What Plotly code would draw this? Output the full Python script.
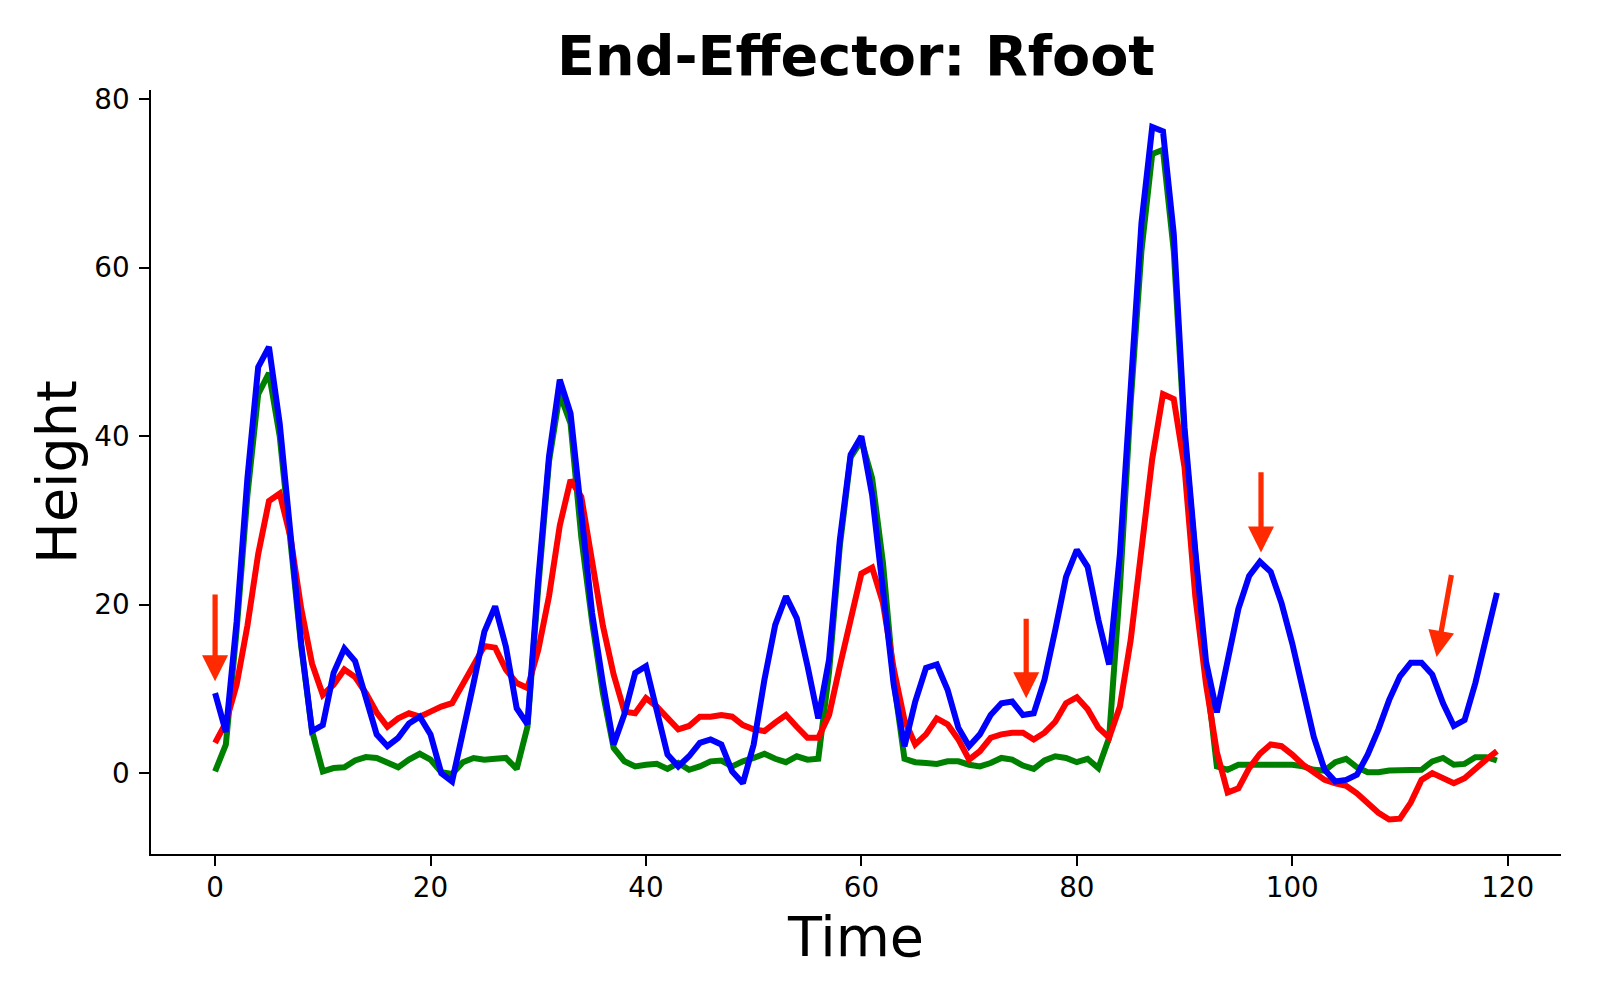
import plotly.graph_objects as go

# ---------------- data ----------------
time = list(range(120))

green = [0.2, 3.4, 17, 33, 45, 47.5, 40, 28, 15, 5,
         0.2, 0.6, 0.7, 1.5, 1.9, 1.8, 1.3, 0.7, 1.6, 2.3,
         1.6, 0.1, -0.1, 1.3, 1.8, 1.6, 1.7, 1.8, 0.5, 5.5,
         22, 37, 45, 41.5, 28, 18, 9.5, 3, 1.4, 0.8,
         1.0, 1.1, 0.5, 1.2, 0.4, 0.8, 1.4, 1.5, 0.8, 1.4,
         1.8, 2.3, 1.7, 1.3, 2.0, 1.6, 1.7, 12, 27, 37.5,
         39.5, 35, 25, 11, 1.7, 1.3, 1.2, 1.1, 1.4, 1.4,
         1.0, 0.8, 1.2, 1.8, 1.6, 0.9, 0.5, 1.5, 2.0, 1.8,
         1.3, 1.7, 0.6, 4.2, 22, 44, 62, 73.5, 74, 62,
         40, 25, 12, 0.8, 0.4, 1.0, 1.0, 1.0, 0.9, 0.9,
         1.0, 0.8, 0.4, 0.3, 1.3, 1.7, 0.7, 0.1, 0.1, 0.3,
         0.3, 0.3, 0.4, 1.4, 1.8, 1.0, 1.1, 1.9, 1.9, 1.5]

red = [3.6, 6.0, 10.5, 17.5, 26, 32.3, 33.2, 28, 19.5, 13,
       9.3, 10.5, 12.3, 11.4, 9.5, 7.2, 5.5, 6.5, 7.1, 6.7,
       7.3, 7.9, 8.3, 10.5, 13, 15.1, 14.9, 12.3, 10.7, 10.1,
       14.6, 21, 29.4, 34.8, 32.8, 25.5, 17.5, 11.7, 7.3, 7.1,
       8.9, 7.9, 6.5, 5.2, 5.6, 6.7, 6.7, 6.9, 6.7, 5.7,
       5.2, 5.0, 6.0, 6.9, 5.5, 4.2, 4.2, 6.9, 12.7, 18.6,
       23.7, 24.4, 20.2, 12.4, 6.3, 3.4, 4.6, 6.5, 5.8, 4.0,
       1.6, 2.6, 4.2, 4.6, 4.8, 4.8, 4.0, 4.8, 6.1, 8.3,
       9.0, 7.6, 5.4, 4.2, 7.9, 15.8, 26.4, 37.3, 45.0, 44.4,
       36.3, 21, 10.5, 2.5, -2.3, -1.8, 0.6, 2.3, 3.4, 3.2,
       2.2, 1.0, 0.1, -0.8, -1.2, -1.5, -2.4, -3.5, -4.7, -5.5,
       -5.4, -3.5, -0.8, 0.0, -0.6, -1.2, -0.6, 0.6, 1.6, 2.6]

blue = [9.5, 4.9, 18, 35, 48.2, 50.6, 41.5, 29, 15.3, 5,
        5.7, 11.9, 14.8, 13.3, 9, 4.6, 3.2, 4.2, 5.9, 6.7,
        4.6, 0, -1, 4.5, 10.7, 16.8, 19.8, 15, 7.7, 5.8,
        23, 37.6, 46.7, 42.7, 31, 19, 10.7, 3.4, 7, 11.9,
        12.7, 7.5, 2.2, 0.8, 2.0, 3.6, 4.0, 3.4, 0.2, -1.2,
        3.4, 11.1, 17.6, 21, 18.4, 12.7, 6.5, 13.5, 27.7, 37.8,
        40, 33, 22, 10.5, 3.2, 8.5, 12.5, 12.9, 9.9, 5.4,
        3.2, 4.6, 6.9, 8.3, 8.5, 6.9, 7.1, 11.1, 17, 23.3,
        26.5, 24.5, 18.2, 12.9, 26, 46, 65.3, 76.7, 76.2, 64,
        41, 26.4, 13.2, 7.2, 13.2, 19.5, 23.4, 25.1, 23.9, 20.2,
        15.4, 9.9, 4.3, 0.4, -1.0, -0.8, -0.2, 2.2, 5.2, 8.7,
        11.5, 13.1, 13.1, 11.7, 8.3, 5.6, 6.3, 10.7, 15.8, 21.4]

# arrows: tail (x, y) -> tip (x, y)
arrow_tail_x = [0, 75.3, 97.1, 114.8]
arrow_tail_y = [21.4, 18.5, 35.9, 23.7]
arrow_tip_x = [0, 75.3, 97.1, 113.4]
arrow_tip_y = [10.9, 8.9, 26.2, 13.8]

x_ticks = [0, 20, 40, 60, 80, 100, 120]
y_ticks = [0, 20, 40, 60, 80]

FONT = "DejaVu Sans"
LW = 6

fig = go.Figure()
for vals, col, name in [(green, "#008000", "green"), (red, "#ff0000", "red"), (blue, "#0000ff", "blue")]:
    fig.add_trace(go.Scatter(x=time, y=vals, mode="lines", name=name,
                             line=dict(color=col, width=LW), showlegend=False,
                             hoverinfo="skip"))

annotations = []
for tx, ty, hx, hy in zip(arrow_tail_x, arrow_tail_y, arrow_tip_x, arrow_tip_y):
    annotations.append(dict(x=hx, y=hy, ax=tx, ay=ty, xref="x", yref="y",
                            axref="x", ayref="y", text="", showarrow=True,
                            arrowhead=2, arrowsize=1.0, arrowwidth=5.2,
                            arrowcolor="#ff2a00", standoff=0))

fig.update_layout(
    width=1600, height=1000,
    margin=dict(l=151, r=39, t=90, b=146, autoexpand=False),
    paper_bgcolor="white", plot_bgcolor="white",
    font=dict(family=FONT, color="black"),
    title=dict(text="End-Effector: Rfoot", x=0.5, xref="paper",
               y=1 - 56 / 1000, yref="container", xanchor="center", yanchor="middle",
               font=dict(family=FONT, size=55.6, weight="bold", color="black")),
    annotations=annotations,
)

fig.update_xaxes(range=[-5.95, 124.95], tickvals=x_ticks, showgrid=False, zeroline=False,
                 showline=True, linecolor="black", linewidth=2.2, ticks="outside",
                 ticklen=9.7, tickwidth=2.2, tickcolor="black",
                 tickfont=dict(family=FONT, size=27.8, color="black"),
                 ticklabelstandoff=-2,
                 title=dict(text="Time", font=dict(family=FONT, size=55.6, color="black"),
                            standoff=10))
fig.update_yaxes(range=[-9.6, 81.1], tickvals=y_ticks, showgrid=False, zeroline=False,
                 showline=True, linecolor="black", linewidth=2.2, ticks="outside",
                 ticklen=9.7, tickwidth=2.2, tickcolor="black",
                 tickfont=dict(family=FONT, size=27.8, color="black"),
                 ticklabelstandoff=4,
                 title=dict(text="Height", font=dict(family=FONT, size=55.6, color="black"),
                            standoff=0))

fig.write_html("out.html", config={"displayModeBar": False},
               post_script="document.body.style.margin='0';")
